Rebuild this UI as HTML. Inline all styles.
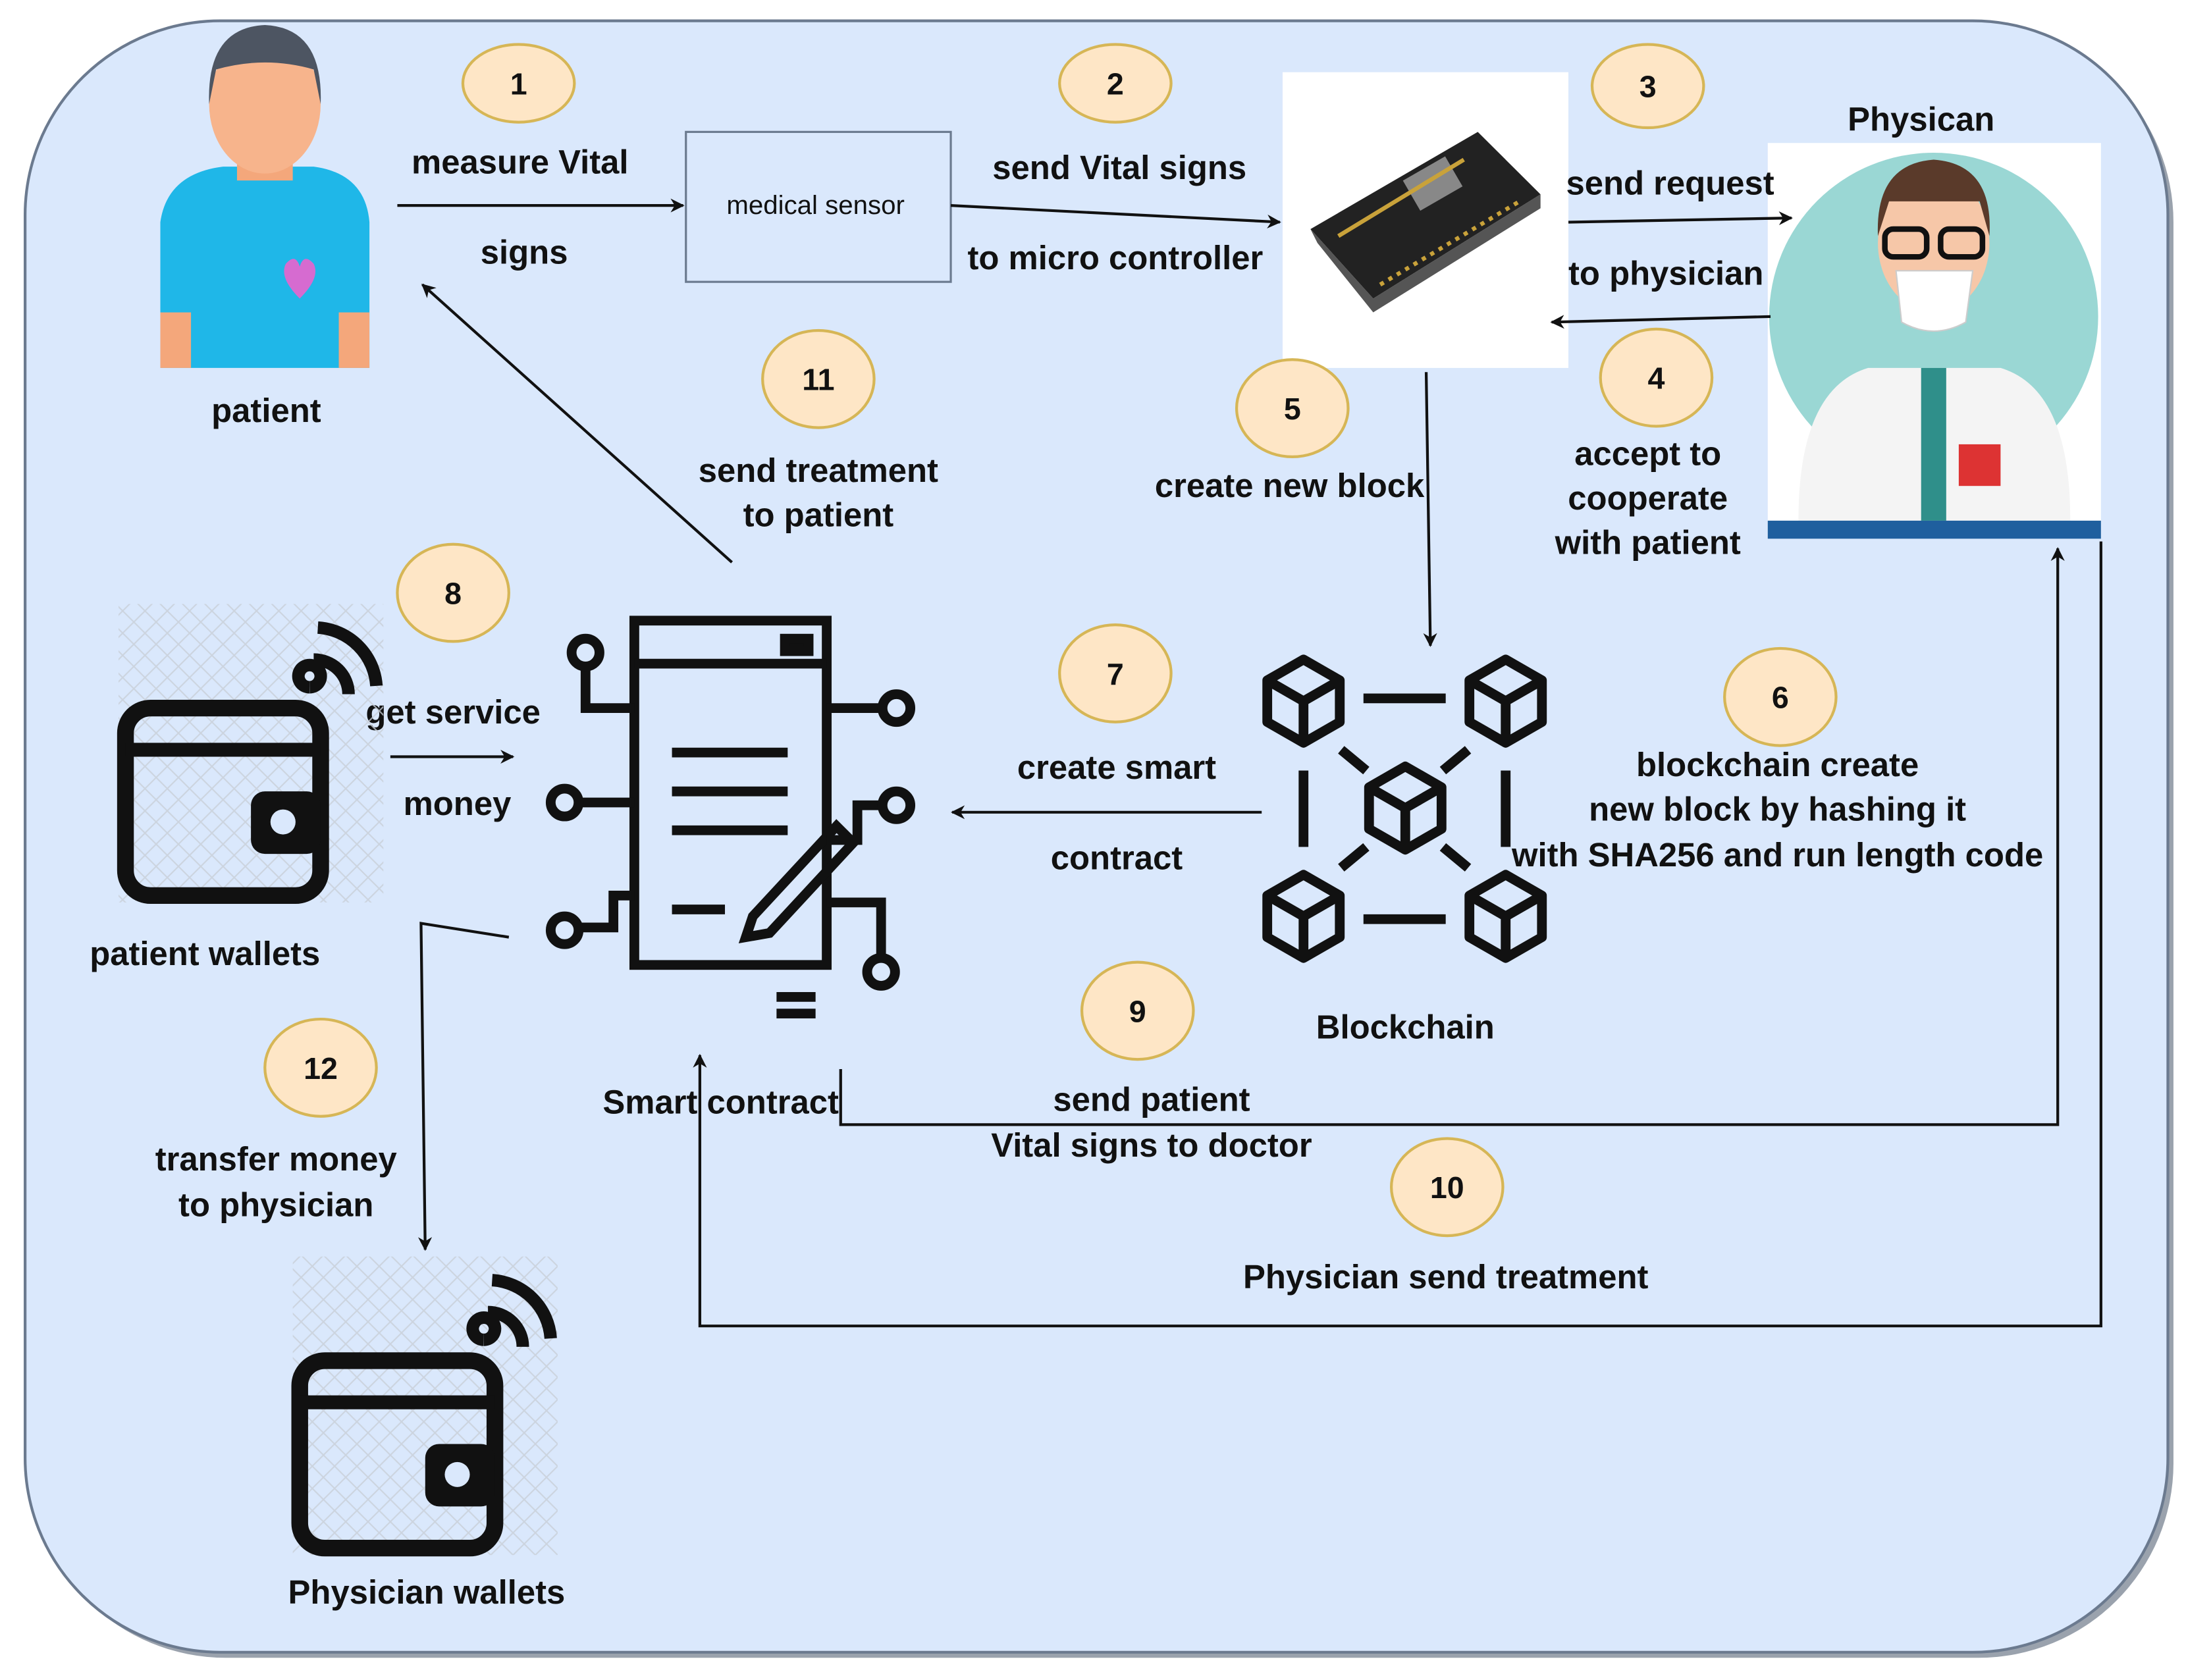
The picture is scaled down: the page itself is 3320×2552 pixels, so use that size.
<!DOCTYPE html>
<html><head><meta charset="utf-8"><style>
html,body{margin:0;padding:0;background:#fff;}
svg{display:block;}
text{font-family:"Liberation Sans",sans-serif;font-weight:bold;fill:#111;}
</style></head><body>
<svg width="3320" height="2552" viewBox="0 0 1568 1210" preserveAspectRatio="none" xmlns="http://www.w3.org/2000/svg">
<defs>
<marker id="a" markerWidth="10" markerHeight="10" refX="9" refY="5" orient="auto" markerUnits="userSpaceOnUse"><path d="M0,0 L10,5 L0,10 L3,5 z" fill="#111"/></marker>
<pattern id="hatch" width="16" height="16" patternUnits="userSpaceOnUse"><path d="M0,0 L16,16 M16,0 L0,16" stroke="#c8cfd8" stroke-width="1"/></pattern>
<g id="cube"><path d="M0,-30 L26,-15 L26,15 L0,30 L-26,15 L-26,-15Z M-26,-15 L0,0 L26,-15 M0,0 L0,30"/></g>
</defs>
<rect x="0" y="0" width="1568" height="1210" fill="#fff"/>
<rect x="22" y="20" width="1537" height="1174" rx="140" fill="#9aa2ad"/>
<rect x="18" y="15" width="1537" height="1175" rx="140" fill="#dae8fc" stroke="#6b7a8f" stroke-width="2"/>

<!-- patient -->
<path d="M115,265 L115,160 Q120,125 160,120 L225,120 Q262,125 265,160 L265,265 Z" fill="#1fb7e8"/>
<rect x="115" y="225" width="22" height="40" fill="#f4a77b"/>
<rect x="243" y="225" width="22" height="40" fill="#f4a77b"/>
<rect x="170" y="95" width="40" height="35" fill="#f4a77b"/>
<ellipse cx="190" cy="75" rx="40" ry="50" fill="#f7b48c"/>
<path d="M150,75 Q148,20 190,18 Q232,20 230,75 L225,50 Q190,40 155,50 Z" fill="#4d5562"/>
<path d="M215,215 Q200,200 205,190 Q212,182 215,192 Q218,182 225,190 Q230,200 215,215Z" fill="#d66bd0"/>
<text x="191" y="304" font-size="24" text-anchor="middle">patient</text>

<rect x="492" y="95" width="190" height="108" fill="#dae8fc" stroke="#6b7a8f" stroke-width="1.5"/>
<text x="585" y="154" font-size="19" style="font-weight:normal" text-anchor="middle" fill="#333">medical sensor</text>

<!-- microcontroller -->
<rect x="920" y="52" width="205" height="213" fill="#fff"/>
<path d="M940,165 L1060,95 L1105,140 L985,215 Z" fill="#222"/>
<path d="M945,175 L985,225 L1105,150 L1105,140 L985,215 L940,165Z" fill="#555"/>
<rect x="1010" y="120" width="35" height="25" fill="#888" transform="rotate(-30 1027 132)"/>
<path d="M960,170 L1050,115" stroke="#c9a23a" stroke-width="3"/>
<path d="M990,205 L1090,145" stroke="#c9a23a" stroke-width="3" stroke-dasharray="3,4"/>

<!-- physician -->
<rect x="1268" y="103" width="239" height="285" fill="#fff"/>
<circle cx="1387" cy="228" r="118" fill="#9ad7d4"/>
<path d="M1290,375 Q1290,280 1340,265 L1435,265 Q1485,280 1485,375 Z" fill="#f4f4f4"/>
<rect x="1378" y="265" width="18" height="110" fill="#2f8f8a"/>
<ellipse cx="1387" cy="175" rx="40" ry="50" fill="#f6c7a8"/>
<path d="M1347,170 Q1345,118 1387,115 Q1430,118 1427,170 L1420,145 L1355,145Z" fill="#5a3a2a"/>
<rect x="1352" y="165" width="30" height="20" rx="6" fill="none" stroke="#111" stroke-width="4"/>
<rect x="1392" y="165" width="30" height="20" rx="6" fill="none" stroke="#111" stroke-width="4"/>
<path d="M1360,195 L1415,195 L1410,232 Q1387,245 1364,232Z" fill="#fff" stroke="#ccc"/>
<rect x="1405" y="320" width="30" height="30" fill="#d33"/>
<rect x="1268" y="375" width="239" height="13" fill="#1f5f9e"/>
<text x="1378" y="94" font-size="24" text-anchor="middle">Physican</text>

<!-- arrows -->
<g stroke="#111" stroke-width="2" fill="none">
<line x1="285" y1="148" x2="490" y2="148" marker-end="url(#a)"/>
<line x1="682" y1="148" x2="918" y2="160" marker-end="url(#a)"/>
<line x1="1125" y1="160" x2="1285" y2="157" marker-end="url(#a)"/>
<line x1="1270" y1="228" x2="1113" y2="232" marker-end="url(#a)"/>
<line x1="1023" y1="268" x2="1026" y2="465" marker-end="url(#a)"/>
<line x1="905" y1="585" x2="683" y2="585" marker-end="url(#a)"/>
<line x1="525" y1="405" x2="303" y2="205" marker-end="url(#a)"/>
<line x1="280" y1="545" x2="368" y2="545" marker-end="url(#a)"/>
<polyline points="365,675 302,665 305,900" marker-end="url(#a)"/>
<polyline points="603,770 603,810 1476,810 1476,395" marker-end="url(#a)"/>
<polyline points="1507,390 1507,955 502,955 502,760" marker-end="url(#a)"/>
</g>

<!-- ellipses -->
<g fill="#fee6c6" stroke="#d6b656" stroke-width="2">
<ellipse cx="372" cy="60" rx="40" ry="28"/>
<ellipse cx="800" cy="60" rx="40" ry="28"/>
<ellipse cx="1182" cy="62" rx="40" ry="30"/>
<ellipse cx="1188" cy="272" rx="40" ry="35"/>
<ellipse cx="927" cy="294" rx="40" ry="35"/>
<ellipse cx="1277" cy="502" rx="40" ry="35"/>
<ellipse cx="800" cy="485" rx="40" ry="35"/>
<ellipse cx="325" cy="427" rx="40" ry="35"/>
<ellipse cx="816" cy="728" rx="40" ry="35"/>
<ellipse cx="1038" cy="855" rx="40" ry="35"/>
<ellipse cx="587" cy="273" rx="40" ry="35"/>
<ellipse cx="230" cy="769" rx="40" ry="35"/>
</g>
<g font-size="22" text-anchor="middle">
<text x="372" y="68">1</text><text x="800" y="68">2</text><text x="1182" y="70">3</text>
<text x="1188" y="280">4</text><text x="927" y="302">5</text><text x="1277" y="510">6</text>
<text x="800" y="493">7</text><text x="325" y="435">8</text><text x="816" y="736">9</text>
<text x="1038" y="863">10</text><text x="587" y="281">11</text><text x="230" y="777">12</text>
</g>

<g font-size="24" text-anchor="middle">
<text x="373" y="125">measure Vital</text>
<text x="376" y="190">signs</text>
<text x="803" y="129">send Vital signs</text>
<text x="800" y="194">to micro controller</text>
<text x="1198" y="140">send request</text>
<text x="1195" y="205">to physician</text>
<text x="1182" y="335">accept to</text>
<text x="1182" y="367">cooperate</text>
<text x="1182" y="399">with patient</text>
<text x="925" y="358">create new block</text>
<text x="587" y="347">send treatment</text>
<text x="587" y="379">to patient</text>
<text x="325" y="521">get service</text>
<text x="328" y="587">money</text>
<text x="147" y="695">patient wallets</text>
<text x="801" y="561">create smart</text>
<text x="801" y="626">contract</text>
<text x="1275" y="559">blockchain create</text>
<text x="1275" y="591">new block by hashing it</text>
<text x="1275" y="624">with SHA256 and run length code</text>
<text x="1008" y="748">Blockchain</text>
<text x="517" y="802">Smart contract</text>
<text x="826" y="800">send patient</text>
<text x="826" y="833">Vital signs to doctor</text>
<text x="1037" y="928">Physician send treatment</text>
<text x="198" y="843">transfer money</text>
<text x="198" y="876">to physician</text>
<text x="306" y="1155">Physician wallets</text>
</g>

<!-- patient wallet -->
<rect x="85" y="435" width="190" height="215" fill="url(#hatch)" opacity="0.8"/>
<rect x="90" y="510" width="140" height="135" rx="18" fill="none" stroke="#111" stroke-width="12"/>
<path d="M90,540 L230,540" stroke="#111" stroke-width="10"/>
<rect x="180" y="570" width="50" height="45" rx="10" fill="#111"/>
<circle cx="203" cy="592" r="9" fill="#dae8fc"/>
<path d="M222,495 a8,8 0 1,1 0.1,0 M225,475 a25,25 0 0,1 25,25 M228,452 a45,45 0 0,1 42,42" stroke="#111" stroke-width="9" fill="none"/>
<!-- physician wallet -->
<rect x="210" y="905" width="190" height="215" fill="url(#hatch)" opacity="0.8"/>
<rect x="215" y="980" width="140" height="135" rx="18" fill="none" stroke="#111" stroke-width="12"/>
<path d="M215,1010 L355,1010" stroke="#111" stroke-width="10"/>
<rect x="305" y="1040" width="50" height="45" rx="10" fill="#111"/>
<circle cx="328" cy="1062" r="9" fill="#dae8fc"/>
<path d="M347,965 a8,8 0 1,1 0.1,0 M350,945 a25,25 0 0,1 25,25 M353,922 a45,45 0 0,1 42,42" stroke="#111" stroke-width="9" fill="none"/>

<!-- smart contract icon -->
<g stroke="#111" stroke-width="7" fill="none">
<rect x="455" y="447" width="138" height="248"/>
<line x1="455" y1="478" x2="593" y2="478"/>
<line x1="482" y1="542" x2="565" y2="542"/>
<line x1="482" y1="570" x2="565" y2="570"/>
<line x1="482" y1="598" x2="565" y2="598"/>
<line x1="482" y1="655" x2="520" y2="655"/>
<path d="M540,660 L600,595 L612,607 L552,672 L535,675Z"/>
<line x1="557" y1="718" x2="585" y2="718"/><line x1="557" y1="730" x2="585" y2="730"/>
<path d="M420,480 L420,510 L455,510"/><circle cx="420" cy="470" r="10"/>
<path d="M415,578 L455,578"/><circle cx="405" cy="578" r="10"/>
<path d="M415,668 L440,668 L440,645 L455,645"/><circle cx="405" cy="670" r="10"/>
<path d="M593,510 L632,510"/><circle cx="643" cy="510" r="10"/>
<path d="M593,605 L615,605 L615,580 L632,580"/><circle cx="643" cy="580" r="10"/>
<path d="M593,650 L632,650 L632,690"/><circle cx="632" cy="700" r="10"/>
<rect x="563" y="460" width="17" height="9" fill="#111"/>
</g>

<!-- blockchain icon -->
<g stroke="#111" stroke-width="7" fill="none" stroke-linejoin="round">
<use href="#cube" x="935" y="505"/>
<use href="#cube" x="1080" y="505"/>
<use href="#cube" x="1008" y="582"/>
<use href="#cube" x="935" y="660"/>
<use href="#cube" x="1080" y="660"/>
<line x1="978" y1="503" x2="1037" y2="503"/>
<line x1="978" y1="662" x2="1037" y2="662"/>
<line x1="935" y1="555" x2="935" y2="610"/>
<line x1="1080" y1="555" x2="1080" y2="610"/>
<line x1="962" y1="540" x2="980" y2="555"/>
<line x1="1053" y1="540" x2="1035" y2="555"/>
<line x1="962" y1="625" x2="980" y2="610"/>
<line x1="1053" y1="625" x2="1035" y2="610"/>
</g>
</svg>
</body></html>
